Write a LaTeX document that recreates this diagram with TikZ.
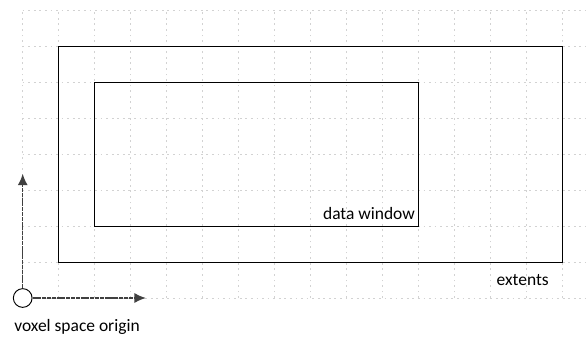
\documentclass[tikz,border=0pt]{standalone}
\usepackage{fontspec}
\setmainfont{Carlito}
\usetikzlibrary{arrows.meta}
\tikzset{
  gridline/.style={gray!35, line width=0.55pt, dash pattern=on 1.4pt off 3pt},
  boxline/.style={draw=black, line width=0.75pt},
  axisarrow/.style={black!75, line width=1.2pt, dash pattern=on 3.2pt off 0.6pt, -{Latex[length=9pt,width=8pt]}},
  lbl/.style={font=\fontsize{13.8}{16}\selectfont, inner sep=0pt},
}
\begin{document}
\begin{tikzpicture}
\useasboundingbox (-0.631,-1.083) rectangle (15.647,8.278);
\begin{scope}
\clip (-0.631,-1.083) rectangle (15.647,8.278);
\foreach \x in {0,...,16} \draw[gridline] (\x,0) -- (\x,8);
\foreach \y in {0,...,8} \draw[gridline] (0,\y) -- (16,\y);
\end{scope}
\draw[boxline] (1,1) rectangle (15,7);
\draw[boxline] (2,2) rectangle (11,6);
\node[lbl, anchor=east] (dw) at (10.9,2.36) {data window};
\node[lbl, anchor=east] (ext) at (14.62,0.5) {extents};
\node[circle, draw=black, line width=0.75pt, fill=white, minimum size=0.52cm, inner sep=0pt] (origin) at (0,0) {};
\coordinate (yend) at (0,3.45);
\coordinate (xend) at (3.42,0);
\draw[axisarrow] (origin.north) -- (yend);
\draw[axisarrow] (origin.east) -- (xend);
\node[lbl, anchor=west] (vso) at (-0.24,-0.8) {voxel space origin};
\end{tikzpicture}
\end{document}
